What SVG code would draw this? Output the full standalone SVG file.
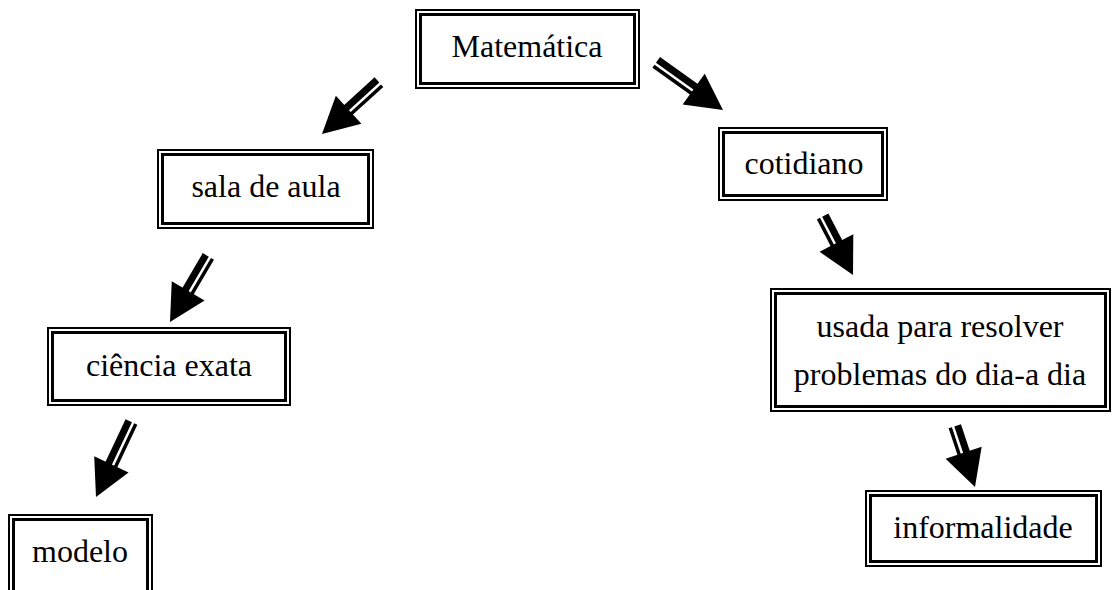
<svg xmlns="http://www.w3.org/2000/svg" width="1114" height="590" viewBox="0 0 1114 590">
  <style>
    .outer { fill: #fff; stroke: #000; stroke-width: 2; }
    .inner { fill: none; stroke: #000; stroke-width: 3; }
    .lbl { font-family: "Liberation Serif", "Times New Roman", "DejaVu Serif", serif; font-size: 32px; fill: #000; text-anchor: middle; }
    .ah { fill: #000; stroke: none; }
  </style>
  <rect width="1114" height="590" fill="#fff"/>

  <!-- double-framed nodes -->
  <g id="matematica">
    <rect class="outer" x="416" y="10" width="223" height="78"/>
    <rect class="inner" x="420.5" y="14.5" width="214" height="69"/>
    <text class="lbl" x="527" y="57">Matemática</text>
  </g>
  <g id="sala-de-aula">
    <rect class="outer" x="158" y="150" width="215" height="78"/>
    <rect class="inner" x="162.5" y="154.5" width="206" height="69"/>
    <text class="lbl" x="266" y="197">sala de aula</text>
  </g>
  <g id="cotidiano">
    <rect class="outer" x="719" y="128" width="168" height="72"/>
    <rect class="inner" x="723.5" y="132.5" width="159" height="63"/>
    <text class="lbl" x="804" y="174">cotidiano</text>
  </g>
  <g id="ciencia-exata">
    <rect class="outer" x="48" y="328" width="242" height="77"/>
    <rect class="inner" x="52.5" y="332.5" width="233" height="68"/>
    <text class="lbl" x="169" y="376">ciência exata</text>
  </g>
  <g id="modelo">
    <rect class="outer" x="9" y="515" width="143" height="90"/>
    <rect class="inner" x="13.5" y="519.5" width="134" height="81"/>
    <text class="lbl" x="80" y="562">modelo</text>
  </g>
  <g id="usada">
    <rect class="outer" x="771" y="289" width="339" height="122"/>
    <rect class="inner" x="775.5" y="293.5" width="330" height="113"/>
    <text class="lbl" x="940" y="337">usada para resolver</text>
    <text class="lbl" x="940" y="385">problemas do dia-a dia</text>
  </g>
  <g id="informalidade">
    <rect class="outer" x="866" y="491" width="235" height="75"/>
    <rect class="inner" x="870.5" y="495.5" width="226" height="66"/>
    <text class="lbl" x="983" y="538">informalidade</text>
  </g>

  <!-- block arrows: local frame has the tip at the origin, pointing along +x;
       a thick bar and a thin bar form the split shaft -->
  <g id="connectors">
    <g transform="translate(322,134) rotate(137.7) scale(1,-1)">
      <rect class="ah" x="-77" y="-6.5" width="44" height="7"/>
      <rect class="ah" x="-77" y="3" width="44" height="3.5"/>
      <path class="ah" d="M0,0 L-36,-19 L-36,19 Z"/>
    </g>
    <g transform="translate(723,110) rotate(35.5)">
      <rect class="ah" x="-82" y="-6.5" width="49" height="7"/>
      <rect class="ah" x="-82" y="3" width="49" height="3.5"/>
      <path class="ah" d="M0,0 L-36,-19 L-36,19 Z"/>
    </g>
    <g transform="translate(170,322) rotate(120.3) scale(1,-1)">
      <rect class="ah" x="-76" y="-6.5" width="43" height="7"/>
      <rect class="ah" x="-76" y="3" width="43" height="3.5"/>
      <path class="ah" d="M0,0 L-36,-19 L-36,19 Z"/>
    </g>
    <g transform="translate(96,497) rotate(115.3) scale(1,-1)">
      <rect class="ah" x="-83" y="-6.5" width="50" height="7"/>
      <rect class="ah" x="-83" y="3" width="50" height="3.5"/>
      <path class="ah" d="M0,0 L-36,-19 L-36,19 Z"/>
    </g>
    <g transform="translate(853,275) rotate(62.6)">
      <rect class="ah" x="-66" y="-6.5" width="33" height="7"/>
      <rect class="ah" x="-66" y="3" width="33" height="3.5"/>
      <path class="ah" d="M0,0 L-36,-19 L-36,19 Z"/>
    </g>
    <g transform="translate(975,487) rotate(71.6)">
      <rect class="ah" x="-64" y="-6.5" width="31" height="7"/>
      <rect class="ah" x="-64" y="3" width="31" height="3.5"/>
      <path class="ah" d="M0,0 L-36,-19 L-36,19 Z"/>
    </g>
  </g>
</svg>
